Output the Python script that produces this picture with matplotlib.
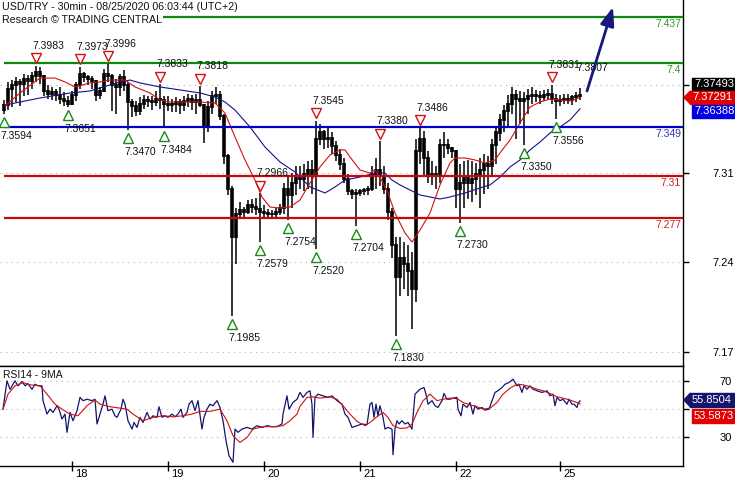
import numpy as np
import matplotlib.pyplot as plt
import matplotlib.transforms as mtransforms
from matplotlib.patches import Polygon, Rectangle

plt.rcParams['font.family'] = ['Liberation Sans', 'DejaVu Sans']

W, H = 735, 480

# hourly bars, x = hours since chart start
bar_high = [7.371, 7.385, 7.387, 7.389, 7.388, 7.392, 7.391, 7.393, 7.3983, 7.397,
            7.388, 7.383, 7.381, 7.380, 7.381, 7.377, 7.374, 7.378, 7.385, 7.3973,
            7.393, 7.391, 7.390, 7.387, 7.381, 7.396, 7.3996, 7.392, 7.388, 7.392,
            7.395, 7.385, 7.372, 7.370, 7.373, 7.375, 7.374, 7.374, 7.378, 7.3833,
            7.374, 7.374, 7.372, 7.373, 7.372, 7.374, 7.376, 7.375, 7.376, 7.3818,
            7.368, 7.370, 7.378, 7.381, 7.378, 7.360, 7.328, 7.302, 7.285, 7.290,
            7.286, 7.291, 7.292, 7.293, 7.2966, 7.287, 7.284, 7.283, 7.285, 7.288,
            7.305, 7.310, 7.313, 7.318, 7.318, 7.320, 7.322, 7.323, 7.3545, 7.352,
            7.347, 7.349, 7.345, 7.338, 7.332, 7.325, 7.312, 7.300, 7.300, 7.300,
            7.301, 7.302, 7.318, 7.325, 7.3380, 7.318, 7.305, 7.285, 7.262, 7.262,
            7.258, 7.255, 7.250, 7.340, 7.3486, 7.346, 7.330, 7.322, 7.318, 7.340,
            7.345, 7.340, 7.333, 7.318, 7.320, 7.322, 7.323, 7.322, 7.321, 7.325,
            7.328, 7.326, 7.340, 7.350, 7.360, 7.367, 7.375, 7.381, 7.379, 7.378,
            7.377, 7.380, 7.381, 7.379, 7.378, 7.379, 7.380, 7.3831, 7.376, 7.375,
            7.376, 7.376, 7.375, 7.377, 7.3807]
bar_low = [7.3594, 7.363, 7.365, 7.369, 7.366, 7.374, 7.375, 7.380, 7.385, 7.384,
           7.374, 7.372, 7.371, 7.370, 7.368, 7.366, 7.3651, 7.367, 7.370, 7.380,
           7.385, 7.383, 7.380, 7.370, 7.372, 7.378, 7.385, 7.362, 7.360, 7.374,
           7.378, 7.3470, 7.357, 7.358, 7.359, 7.364, 7.365, 7.363, 7.366, 7.364,
           7.3484, 7.362, 7.361, 7.361, 7.360, 7.362, 7.365, 7.363, 7.360, 7.365,
           7.337, 7.345, 7.360, 7.368, 7.355, 7.320, 7.295, 7.1985, 7.240, 7.276,
           7.278, 7.280, 7.281, 7.279, 7.2579, 7.278, 7.277, 7.277, 7.278, 7.279,
           7.280, 7.2754, 7.285, 7.295, 7.300, 7.298, 7.300, 7.296, 7.2520, 7.335,
           7.332, 7.333, 7.328, 7.322, 7.315, 7.305, 7.295, 7.292, 7.2704, 7.294,
           7.295, 7.295, 7.298, 7.300, 7.302, 7.296, 7.275, 7.245, 7.1830, 7.215,
           7.220, 7.215, 7.188, 7.210, 7.320, 7.310, 7.305, 7.303, 7.300, 7.305,
           7.325, 7.328, 7.325, 7.285, 7.2730, 7.285, 7.292, 7.290, 7.295, 7.285,
           7.296, 7.300, 7.310, 7.320, 7.338, 7.345, 7.350, 7.360, 7.340, 7.352,
           7.3350, 7.360, 7.368, 7.369, 7.368, 7.370, 7.371, 7.368, 7.3556, 7.366,
           7.368, 7.368, 7.367, 7.369, 7.371]
bar_close = [7.367, 7.380, 7.383, 7.385, 7.384, 7.388, 7.386, 7.390, 7.393, 7.390,
             7.378, 7.376, 7.377, 7.375, 7.372, 7.370, 7.368, 7.375, 7.383, 7.392,
             7.389, 7.388, 7.386, 7.375, 7.378, 7.392, 7.390, 7.383, 7.381, 7.389,
             7.383, 7.369, 7.366, 7.362, 7.368, 7.371, 7.370, 7.369, 7.372, 7.371,
             7.368, 7.367, 7.368, 7.369, 7.367, 7.370, 7.372, 7.369, 7.371, 7.367,
             7.350, 7.365, 7.374, 7.375, 7.358, 7.326, 7.300, 7.262, 7.280, 7.283,
             7.282, 7.287, 7.286, 7.284, 7.282, 7.281, 7.280, 7.280, 7.282, 7.285,
             7.300, 7.295, 7.305, 7.310, 7.308, 7.312, 7.315, 7.310, 7.340, 7.345,
             7.340, 7.341, 7.334, 7.327, 7.320, 7.308, 7.298, 7.296, 7.297, 7.298,
             7.299, 7.300, 7.312, 7.315, 7.310, 7.300, 7.282, 7.255, 7.230, 7.245,
             7.240, 7.235, 7.220, 7.330, 7.340, 7.325, 7.312, 7.310, 7.312, 7.335,
             7.335, 7.333, 7.330, 7.300, 7.305, 7.310, 7.305, 7.308, 7.312, 7.315,
             7.320, 7.318, 7.335, 7.345, 7.355, 7.362, 7.368, 7.375, 7.372, 7.370,
             7.372, 7.374, 7.375, 7.374, 7.373, 7.375, 7.376, 7.372, 7.370, 7.371,
             7.372, 7.371, 7.373, 7.374, 7.3749]
first_open = 7.363

ma_fast_x = [1.25, 5, 10, 13.75, 16.25, 18.75, 22.5, 25, 27.5, 31.25,
             33.75, 37.5, 40, 42.5, 46.25, 50, 53.75, 56.25, 58.75, 61.25,
             63.75, 65.5, 67.5, 70, 72.5, 75, 77.5, 80, 82.5, 85,
             86.25, 87.5, 90, 92.5, 93.75, 95, 97, 98.75, 101.25, 103,
             105, 107.5, 110, 112.5, 113.75, 116.25, 118.75, 121.25, 123.75, 125,
             127.5, 130, 132.5, 135, 137.5, 140, 142.5, 145]
ma_fast = [7.3661, 7.3765, 7.3884, 7.3884, 7.3853, 7.3813, 7.3845, 7.3853, 7.3868, 7.3868,
           7.3813, 7.3765, 7.3709, 7.3693, 7.3693, 7.3693, 7.3685, 7.3605, 7.3414, 7.3231,
           7.3071, 7.2936, 7.2856, 7.2848, 7.2856, 7.2912, 7.3048, 7.3175, 7.3271, 7.3311,
           7.3311, 7.3255, 7.3151, 7.3127, 7.3151, 7.3095, 7.2968, 7.2808, 7.2649, 7.2577,
           7.2673, 7.2808, 7.3032, 7.3207, 7.3247, 7.3247, 7.3231, 7.3207, 7.3231, 7.3287,
           7.3390, 7.3526, 7.3653, 7.3693, 7.3717, 7.3709, 7.3701, 7.3729]

ma_slow_x = [1.25, 2.5, 10, 17.5, 22.5, 25, 30, 32.5, 35, 40,
             45, 50, 53.75, 56.25, 58.75, 62.5, 66.25, 70, 73.75, 77.5,
             81.25, 83.75, 86.25, 90, 93.75, 96.25, 98, 100, 102.5, 105,
             107.5, 110, 112.5, 116.25, 120, 122.5, 125, 127.5, 130, 132.5,
             135, 137.5, 140, 142.5, 145]
ma_slow = [7.3661, 7.3677, 7.3725, 7.3765, 7.3781, 7.3805, 7.3853, 7.3868, 7.3845, 7.3813,
           7.3789, 7.3765, 7.3733, 7.3693, 7.3629, 7.3494, 7.3334, 7.3215, 7.3135, 7.3016,
           7.2968, 7.3016, 7.3071, 7.3095, 7.3127, 7.3127, 7.3071, 7.3032, 7.2992, 7.2952,
           7.2936, 7.2920, 7.2936, 7.2968, 7.3008, 7.3032, 7.3095, 7.3175, 7.3231, 7.3311,
           7.3374, 7.3446, 7.3494, 7.3550, 7.3639]

rsi_x = [0.75, 1.75, 2.5, 3.75, 4.5, 5.5, 6.25, 7, 8, 8.75,
         9.5, 10.5, 10.75, 11.75, 12.5, 13.25, 14.25, 14.75, 15.5, 16.25,
         16.75, 17.5, 18.25, 19.25, 20, 20.75, 21.75, 23, 23.75, 24.25,
         25, 25.75, 26.25, 27, 28, 28.75, 29.25, 30.25, 30.75, 31.25,
         32, 33, 33.5, 34.25, 35, 35.75, 36.75, 37.5, 38.25, 39.25,
         39.75, 40.5, 41.25, 42, 43, 43.75, 44.5, 45.25, 45.75, 46.75,
         47.25, 48, 48.75, 49.5, 50.5, 51, 51.75, 52.5, 53.25, 54.25,
         55, 55.75, 56.5, 57.25, 58.25, 58.75, 59.5, 60.5, 61.75, 63,
         64.25, 65.5, 66.75, 68, 69.25, 70.5, 70.75, 71.75, 72.25, 73.25,
         74.25, 75, 75.75, 76.75, 77.5, 78, 78.25, 78.75, 79.5, 80.75,
         82, 83, 84.25, 85.5, 86.25, 87, 88, 89.25, 90.5, 91.75,
         92.5, 93, 93.5, 94, 94.5, 95, 95.75, 96.25, 97, 98,
         98.25, 98.75, 99.25, 99.75, 100.5, 101.25, 102, 103, 103.75, 105,
         106, 106.5, 107, 108, 108.75, 109.5, 110.5, 111, 111.75, 112.5,
         113.25, 114.25, 114.5, 115.25, 115.75, 116.75, 117.5, 118.25, 118.75, 119.5,
         120.5, 121.25, 122.25, 123, 123.75, 124.5, 125.5, 126.25, 127.25, 128.25,
         129.25, 129.75, 130.5, 131, 131.75, 132.5, 133.25, 134.25, 135.5, 136.75,
         137.5, 138.25, 138.75, 139.25, 140, 140.75, 141.75, 142.25, 143, 143.5,
         144.25, 144.5, 145]
rsi = [50, 70, 64, 70, 66.5, 69.5, 66.5, 68, 64, 67.6,
       66.5, 66.5, 56, 46.5, 50, 47.7, 52.4, 50, 43, 46.5,
       33.6, 47.7, 41.8, 48.9, 58.3, 56, 57, 56, 57, 39.5,
       46.5, 53.5, 59.4, 48.9, 50, 45.3, 44.2, 50, 57, 53.5,
       41.8, 35.9, 40.6, 37.1, 44.2, 40.6, 47.7, 43, 45.3, 44.2,
       51.7, 44.2, 45.3, 44.2, 46.5, 44.6, 46.5, 50, 44.2, 47.7,
       53.5, 56, 48.9, 56, 35.9, 44.2, 50, 53.5, 52.4, 56,
       51.2, 41.8, 27.7, 17.1, 12.4, 35.9, 33.6, 35.9, 37.1, 35.9,
       38.3, 37.1, 38.3, 37.6, 37.6, 39.5, 46.5, 59.4, 50, 54.7,
       57, 61.8, 58.3, 61.8, 63, 53.5, 30, 58.3, 60.6, 59.4,
       58.3, 59.4, 56, 53.5, 46.5, 44.2, 37.1, 38.3, 39.5, 39,
       53.5, 54.7, 44.2, 53.5, 45.3, 52.4, 44.2, 35.9, 37.1, 35.9,
       17.8, 35.9, 41.8, 39.5, 41.8, 39.5, 40.6, 35.9, 60.6, 64.1,
       65.3, 60.6, 53.5, 56, 52.4, 51.2, 56, 61.1, 57, 57,
       57.8, 58.3, 50, 45.3, 53.5, 51.2, 54.7, 46.5, 52.4, 50,
       51.2, 49.3, 50, 56, 61.8, 63, 65.3, 67.6, 68.8, 71.2,
       66.5, 67.6, 61.8, 66.5, 64.1, 66.5, 64.1, 63, 61.8, 63,
       59.4, 60.6, 52.4, 58.3, 56, 57, 53.5, 57, 53.5, 53.5,
       51.2, 54, 55.85]

rsi_ma_x = [0.75, 2, 3.75, 5.75, 7.5, 10, 11.75, 13.75, 15.5, 17.5,
            19.5, 21.75, 23.75, 25, 27.5, 30, 31.75, 33.25, 35.75, 38.25,
            40.75, 43.25, 45.75, 48, 50, 52.5, 55, 56.75, 58.25, 60,
            61.75, 63.25, 65.75, 68.25, 70.75, 72.5, 74.25, 75, 76.75, 78.25,
            80, 82.5, 84.25, 85.75, 87.5, 89.25, 91.25, 92.5, 94.25, 95.75,
            97, 98.25, 100, 101.75, 103, 104.25, 105.75, 107.5, 109.25, 110.75,
            112.5, 114.25, 115.75, 117.5, 119.25, 120.75, 122.5, 124.25, 125.75, 127.5,
            129.25, 130.75, 132.5, 134.25, 135.75, 137.5, 139.25, 140.75, 142.5, 144.25,
            145]
rsi_ma = [50, 60.6, 66.5, 68.8, 67.2, 66.5, 60.6, 53.5, 50, 46.5,
          45.3, 52.4, 56.4, 53.5, 51.7, 50.7, 50, 46.5, 41.8, 44.2,
          45.3, 44.6, 45.3, 46.5, 48.4, 48.4, 50, 41.8, 31.2, 26.5,
          30, 35.9, 37.6, 37.6, 38.3, 41.8, 46.5, 52, 58.3, 58.7,
          57.8, 58.7, 57, 52.4, 46.5, 41.3, 38.3, 40.6, 44.6, 47.7,
          44.2, 38.3, 36.4, 36.7, 39.5, 47.7, 55.9, 60.6, 56, 57,
          57.8, 57.5, 54.7, 53, 51.7, 50, 50.7, 54.7, 60.6, 64.8,
          67.6, 67.2, 65.8, 64.1, 63, 61.1, 58.7, 57.8, 56.4, 54.7,
          53.6]

# swing points: bar number, price
swing_high_bar = [9, 20, 27, 40, 50, 65, 79, 95, 105, 138]
swing_high_val = [7.3983, 7.3973, 7.3996, 7.3833, 7.3818, 7.2966, 7.3545, 7.3380, 7.3486, 7.3831]
swing_low_bar = [1, 17, 32, 41, 58, 65, 72, 79, 89, 99, 115, 131, 139]
swing_low_val = [7.3594, 7.3651, 7.3470, 7.3484, 7.1985, 7.2579, 7.2754, 7.2520, 7.2704,
                 7.1830, 7.2730, 7.3350, 7.3556]
last_high_bar, last_high_val = 145, 7.3807

levels = [7.437, 7.4, 7.349, 7.31, 7.277]
level_text = ['7.437', '7.4', '7.349', '7.31', '7.277']
level_kind = ['res', 'res', 'pivot', 'sup', 'sup']

last_price, last_fast, last_slow = '7.37493', '7.37291', '7.36388'
last_rsi, last_rsi_ma = '55.8504', '53.5873'

price_ticks = [7.383, 7.3125, 7.2415, 7.170]
price_tick_labels = ['', '7.31', '7.24', '7.17']
rsi_ticks = [70, 50, 30]
rsi_tick_labels = ['70', '', '30']
day_pos = [18, 42, 66, 90, 114, 140]
day_labels = ['18', '19', '20', '21', '22', '25']

target_from = (146.75, 7.3781)
target_to = (153.25, 7.4450)

colors = {'res': '#0c8a0c', 'pivot': '#0000cc', 'sup': '#c40a0a'}
text_colors = {'res': '#2f962f', 'pivot': '#3030b8', 'sup': '#d02020'}

fig = plt.figure(figsize=(W / 100, H / 100), dpi=100)
ax = fig.add_axes([0, 1 - 366 / H, 683 / W, 366 / H])
ax_rsi = fig.add_axes([0, 1 - 466 / H, 683 / W, 100 / H], sharex=ax)

xmax = 683 / 4
ax.set_xlim(0, xmax)
ax.set_ylim(7.1589, 7.4506)
ax_rsi.set_ylim(9.8, 80.5)

def shift(dx_px, dy_px):
    return mtransforms.ScaledTranslation(dx_px / 100, dy_px / 100, fig.dpi_scale_trans)

# price bars
x = np.arange(1, len(bar_close) + 1)
opens = np.array([first_open] + bar_close[:-1])
closes = np.array(bar_close)
ax.vlines(x, bar_low, bar_high, color='black', lw=1.1, zorder=2)
ax.vlines(x, np.minimum(opens, closes) - 0.0008, np.maximum(opens, closes) + 0.0008,
          color='black', lw=2.6, zorder=2)

# moving averages
ax.plot(ma_slow_x, ma_slow, color='#12128c', lw=0.8, zorder=3)
ax.plot(ma_fast_x, ma_fast, color='#d41010', lw=0.8, zorder=3)

# key levels
blend = mtransforms.blended_transform_factory(ax.transAxes, ax.transData)
for lvl, txt, kind in zip(levels, level_text, level_kind):
    ax.hlines(lvl, 1, xmax, colors=colors[kind], lw=1.6, zorder=4)
    ax.text(1 - 2 / 683, lvl, txt, transform=blend + shift(0, -2), ha='right', va='top',
            color=text_colors[kind], fontsize=7.5, zorder=4)

# swing markers
ax.plot(swing_high_bar, swing_high_val, ls='none', marker='v', ms=7, mew=1,
        mec='#d41010', mfc='white', transform=ax.transData + shift(0, 7.5), zorder=6)
ax.plot(swing_low_bar, swing_low_val, ls='none', marker='^', ms=7, mew=1,
        mec='#1a8a1a', mfc='white', transform=ax.transData + shift(0, -8), zorder=6)
for b, v in zip(swing_high_bar + [last_high_bar], swing_high_val + [last_high_val]):
    ax.text(b, v, f'{v:.4f}', transform=ax.transData + shift(-4, 20), ha='left',
            va='center', fontsize=7.5, color='#111111', zorder=5)
for b, v in zip(swing_low_bar, swing_low_val):
    ax.text(b, v, f'{v:.4f}', transform=ax.transData + shift(-4, -22), ha='left',
            va='center', fontsize=7.5, color='#111111', zorder=5)

# projected target arrow
ax.annotate('', xy=target_to, xytext=target_from,
            arrowprops=dict(arrowstyle='-|>,head_length=0.8,head_width=0.3',
                            mutation_scale=14, lw=2, color='#17177e',
                            shrinkA=0, shrinkB=0), zorder=6)

# RSI
ax_rsi.plot(rsi_x, rsi, color='#14146e', lw=0.9, zorder=3)
ax_rsi.plot(rsi_ma_x, rsi_ma, color='#cc1111', lw=0.8, zorder=3)

# axes styling
grid_style = dict(color='#b4b4b4', linestyle=(0, (1, 4)), lw=0.8)
for a in (ax, ax_rsi):
    a.yaxis.tick_right()
    a.spines['left'].set_visible(False)
    a.grid(axis='y', **grid_style)
    a.set_axisbelow(True)
    for s in ('right', 'bottom', 'top'):
        a.spines[s].set_linewidth(1.0)
ax.spines['top'].set_visible(False)

ax.set_yticks(price_ticks, price_tick_labels)
ax.tick_params(axis='y', length=4, width=1, pad=17, labelsize=8)
ax.tick_params(axis='x', bottom=False, labelbottom=False)

ax_rsi.set_yticks(rsi_ticks, rsi_tick_labels)
ax_rsi.tick_params(axis='y', length=4, width=1, pad=22, labelsize=8)
ax_rsi.set_xticks(day_pos, day_labels)
ax_rsi.tick_params(axis='x', direction='inout', length=7, width=1, pad=-1, labelsize=8)
for lab in ax_rsi.get_xticklabels():
    lab.set_horizontalalignment('left')
    lab.set_transform(lab.get_transform() + shift(3, 0))

# header texts
def fx(xp):
    return xp / W

def fy(yp):
    return 1 - yp / H

fig.text(fx(2), fy(7), 'USD/TRY - 30min - 08/25/2020 06:03:44 (UTC+2)', fontsize=7.7,
         va='center', ha='left', color='#111111')
fig.text(fx(2), fy(20), 'Research \u00a9 TRADING CENTRAL', fontsize=7.7, va='center',
         ha='left', color='#111111',
         bbox=dict(boxstyle='square,pad=0.1', fc='white', ec='none'), zorder=5)
fig.text(fx(3), fy(375), 'RSI14 - 9MA', fontsize=7.5, va='center', ha='left',
         color='#111111')

# value tags on the right
def tag(yc, text, color, arrow=False, h=13):
    x0 = 690 if arrow else 692
    fig.add_artist(Rectangle((fx(x0), fy(yc + h / 2)), (W - x0) / W, h / H,
                             transform=fig.transFigure, color=color, zorder=5))
    if arrow:
        fig.add_artist(Polygon([(fx(684), fy(yc)), (fx(x0 + 0.5), fy(yc - h / 2)),
                                (fx(x0 + 0.5), fy(yc + h / 2))], closed=True,
                               transform=fig.transFigure, color=color, zorder=5))
    fig.text(fx(x0 + 2), fy(yc), text, color='white', fontsize=8, va='center',
             ha='left', zorder=6)

tag(84, last_price, 'black')
tag(97.5, last_fast, '#e00000', arrow=True)
tag(111.5, last_slow, '#0000e0')
tag(400, last_rsi, '#14146e', arrow=True, h=14)
tag(416, last_rsi_ma, '#e00000', h=14)

fig.savefig('out.png', dpi=100)
